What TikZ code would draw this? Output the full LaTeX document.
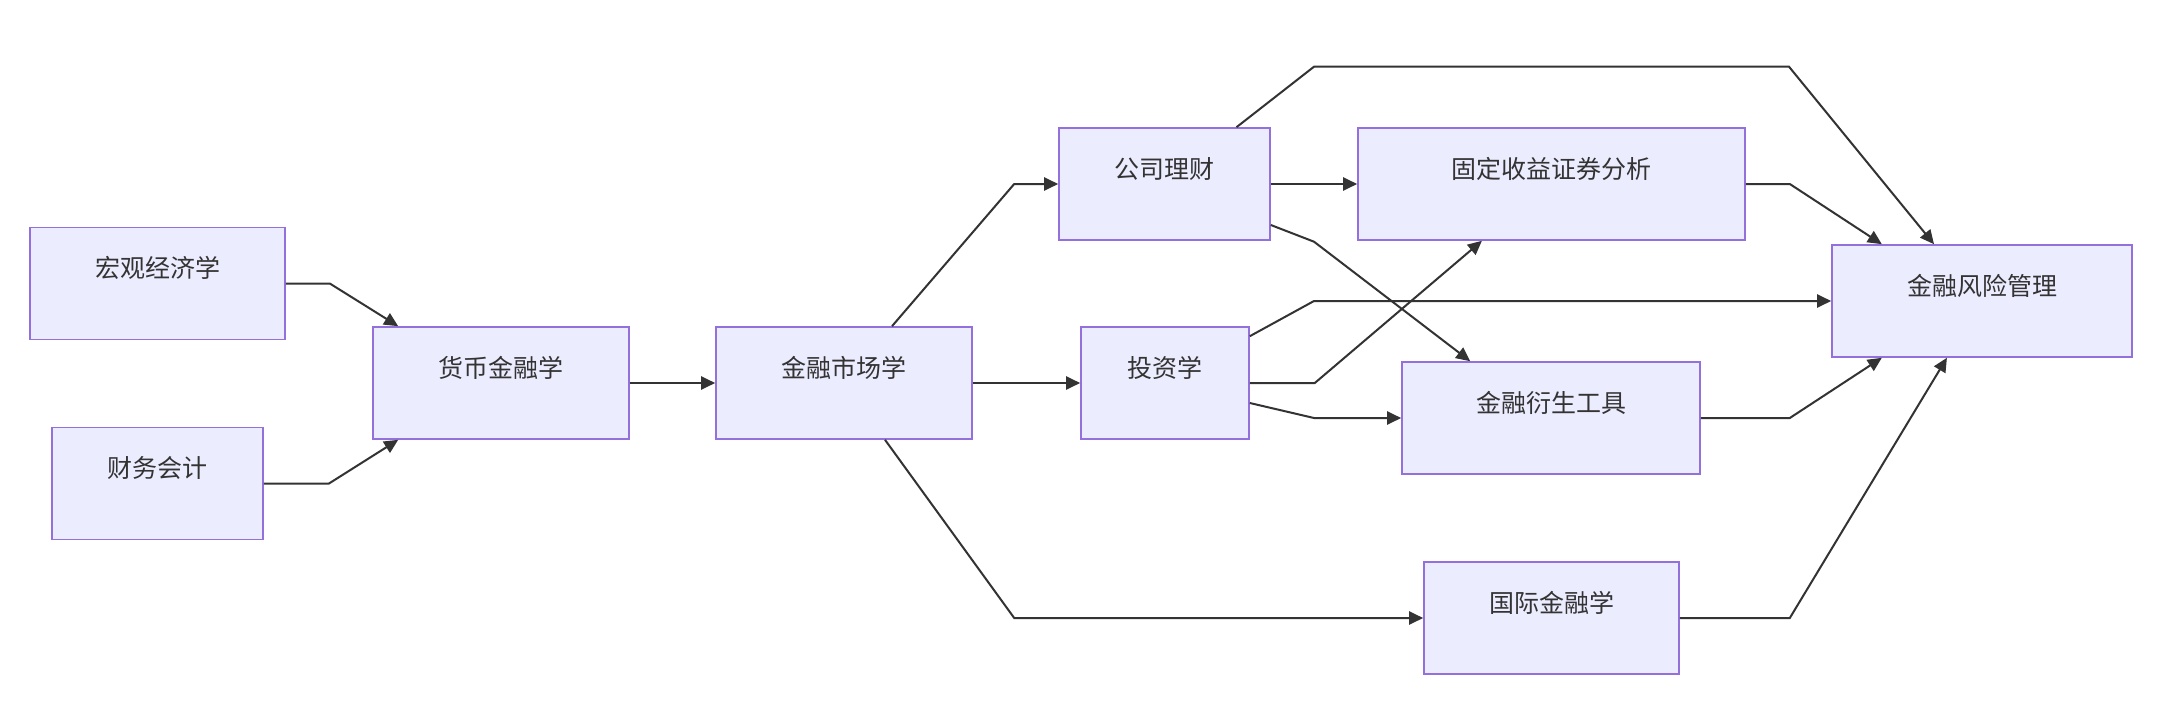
\documentclass[tikz,border=0pt]{standalone}
\usepackage{fontspec}
\setmainfont{Noto Sans CJK SC}
\usetikzlibrary{arrows.meta}
\definecolor{boxfill}{HTML}{ECECFF}
\definecolor{boxdraw}{HTML}{9370DB}
\definecolor{ink}{HTML}{333333}
\begin{document}
\begin{tikzpicture}[x=1pt,y=-1pt,
  box/.style={draw=boxdraw,fill=boxfill,line width=1.6pt,minimum height=112pt,
    inner sep=0pt,text=ink,font=\fontsize{25pt}{30pt}\selectfont,
    text height=20pt,text depth=32pt},
  link/.style={draw=ink,line width=2pt,-{Triangle[length=14pt,width=13pt]}}]
\useasboundingbox (0,0) rectangle (2161,701);
\node[box,minimum width=255pt] (macro) at (157.5,283.5) {宏观经济学};
\node[box,minimum width=211pt] (acct) at (157.5,483.5) {财务会计};
\node[box,minimum width=256pt] (money) at (501,383) {货币金融学};
\node[box,minimum width=256pt] (market) at (844,383) {金融市场学};
\node[box,minimum width=211pt] (corp) at (1164.5,184) {公司理财};
\node[box,minimum width=168pt] (invest) at (1165,383) {投资学};
\node[box,minimum width=387pt] (fixed) at (1551.5,184) {固定收益证券分析};
\node[box,minimum width=298pt] (deriv) at (1551,418) {金融衍生工具};
\node[box,minimum width=255pt] (intl) at (1551.5,618) {国际金融学};
\node[box,minimum width=300pt] (risk) at (1982,301) {金融风险管理};

\draw[link] (macro.east) -- ++(44,0) -- ([xshift=26pt]money.north west);
\draw[link] (acct.east) -- (329,483.5) -- ([xshift=26pt]money.south west);
\draw[link] (money.east) -- (market.west);
\draw[link] ([xshift=48pt]market.north) -- ([xshift=-44pt]corp.west) -- (corp.west);
\draw[link] (market.east) -- (invest.west);
\draw[link] ([xshift=41pt]market.south) -- ([xshift=-409pt]intl.west) -- (intl.west);
\draw[link] ([xshift=72pt]corp.north) -- (1314,66.7) -- (1789,66.7) -- ([xshift=-48pt]risk.north);
\draw[link] (corp.east) -- (fixed.west);
\draw[link] ([yshift=-41pt]corp.east) -- (1314,241.7) -- ([xshift=69pt]deriv.north west);
\draw[link] (fixed.east) -- ++(44,0) -- ([xshift=50.6pt]risk.north west);
\draw[link] ([yshift=-10pt]invest.north east) -- (1314,301) -- (risk.west);
\draw[link] (invest.east) -- ++(65,0) -- ([xshift=124.7pt]fixed.south west);
\draw[link] ([yshift=-20pt]invest.east) -- (1314,418) -- (deriv.west);
\draw[link] (deriv.east) -- ++(89,0) -- ([xshift=50.6pt]risk.south west);
\draw[link] (intl.east) -- ++(110,0) -- ([xshift=115.7pt]risk.south west);
\end{tikzpicture}
\end{document}
